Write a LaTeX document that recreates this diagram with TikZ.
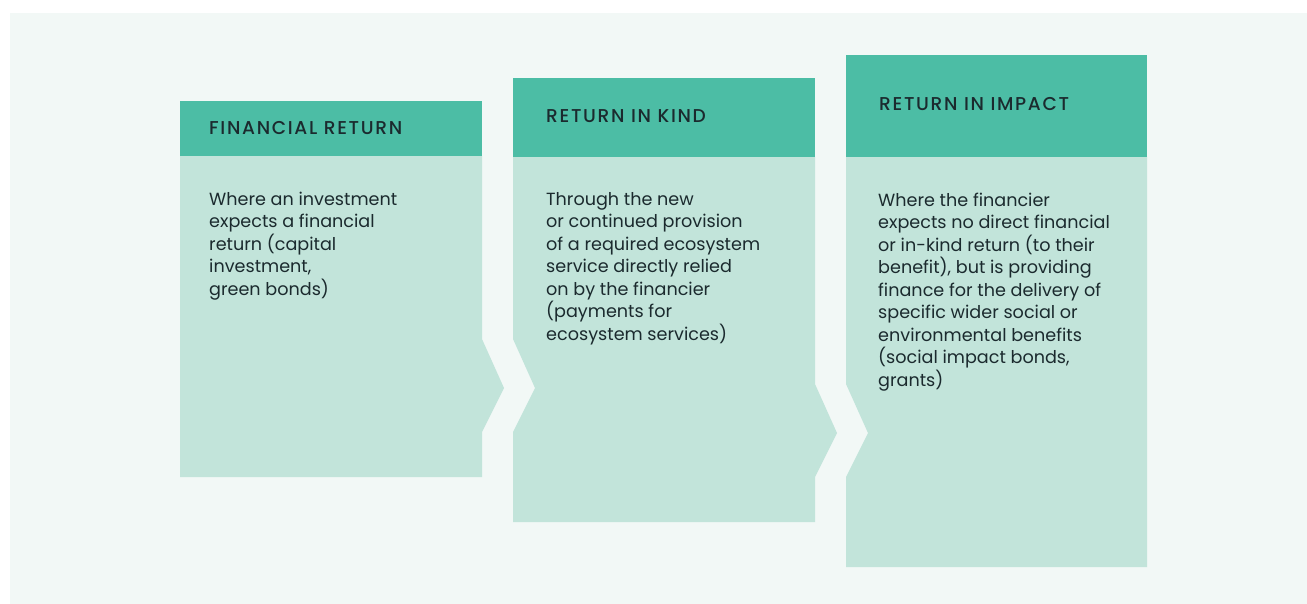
\documentclass[tikz,border=0pt]{standalone}
\usepackage{fontspec}
\setmainfont{Poppins}
\newfontfamily\headfont{Poppins}[UprightFont=* Medium, LetterSpace=9.0]
\definecolor{pagebg}{HTML}{F2F8F6}
\definecolor{headgreen}{HTML}{4CBDA5}
\definecolor{bodygreen}{HTML}{C2E4DA}
\definecolor{inkdark}{HTML}{1B2A2E}
\tikzset{
  headtext/.style={anchor=base west, inner sep=0pt, text=inkdark, font=\headfont\fontsize{18.6}{21}\selectfont},
  bodytext/.style={anchor=base west, inner sep=0pt, align=left, text=inkdark, font=\fontsize{17.6}{22.5}\selectfont}
}
\begin{document}
\begin{tikzpicture}[x=1pt, y=-1pt]
  \useasboundingbox (0,0) rectangle (1307,604);
  \fill[pagebg] (10,13) rectangle (1307,604);

  % financial return
  \fill[bodygreen] (180,156)--(482,156)--(482,339)--(504,388)--(482,432)--(482,477)--(180,477)--cycle;
  \fill[headgreen] (180,101) rectangle (482,156);
  \node[headtext] (fin-title) at (209,135) {FINANCIAL RETURN};
  \node[bodytext] (fin-text) at (209,295) {Where an investment\\expects a financial\\return (capital\\investment,\\green bonds)};

  % return in kind
  \fill[bodygreen] (513,157)--(815,157)--(815,384)--(837,433)--(815,477)--(815,522)--(513,522)--(513,432)--(535,388)--(513,339)--cycle;
  \fill[headgreen] (513,78) rectangle (815,157);
  \node[headtext] (kind-title) at (546,123) {RETURN IN KIND};
  \node[bodytext] (kind-text) at (546,340) {Through the new\\or continued provision\\of a required ecosystem\\service directly relied\\on by the financier\\(payments for\\ecosystem services)};

  % return in impact
  \fill[bodygreen] (846,157)--(1147,157)--(1147,567)--(846,567)--(846,477)--(868,433)--(846,384)--cycle;
  \fill[headgreen] (846,55) rectangle (1147,157);
  \node[headtext] (imp-title) at (879,111) {RETURN IN IMPACT};
  \node[bodytext] (imp-text) at (878,386) {Where the financier\\expects no direct financial\\or in-kind return (to their\\benefit), but is providing\\finance for the delivery of\\specific wider social or\\environmental benefits\\(social impact bonds,\\grants)};
\end{tikzpicture}
\end{document}
